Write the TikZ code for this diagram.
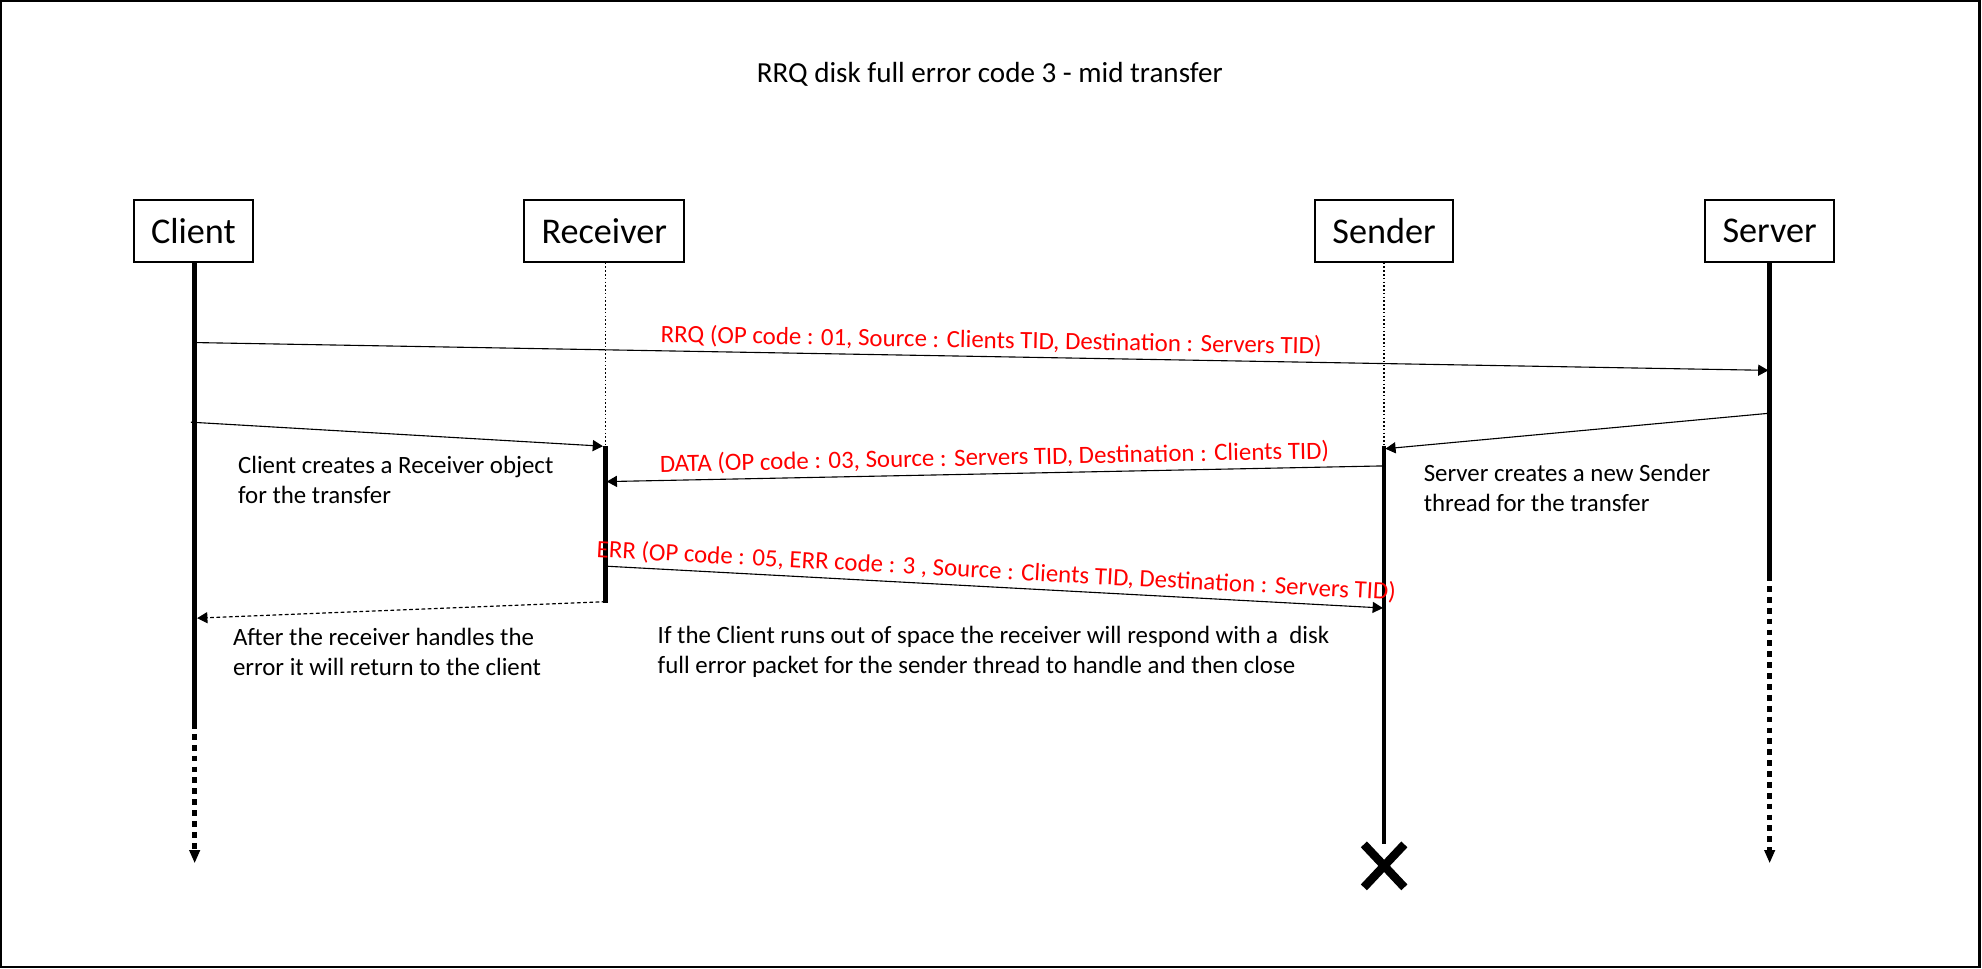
\documentclass[tikz,border=0pt]{standalone}
\usepackage{fontspec}
\setmainfont{Carlito}
\usetikzlibrary{arrows.meta}

\begin{document}
\begin{tikzpicture}[x=0.2mm, y=-0.2mm]

      \tikzset{object/.style={draw, line width=0.9pt, minimum height=27.9pt, inner xsep=7.7pt, font=\fontsize{16.3}{19}\selectfont},
               life/.style={line width=2pt},
               lifeend/.style={line width=2pt, dash pattern=on 2.6pt off 2.3pt, -{Triangle[length=6pt, width=4.6pt]}},
               idle/.style={line width=0.7pt, densely dotted},
               msg/.style={line width=0.5pt, -{Triangle[length=4.6pt, width=5pt]}},
               msglabel/.style={text=red, sloped, above, inner sep=2pt, font=\fontsize{11.2}{13.6}\selectfont},
               note/.style={align=left, anchor=west, inner sep=0pt, font=\fontsize{11.2}{13.6}\selectfont}}
      \useasboundingbox (0,0) rectangle (1568,766);
      \draw[line width=1pt] (1,1) rectangle (1566,765);
      \node[anchor=base, font=\fontsize{13.1}{16}\selectfont] (title) at (783,65) {RRQ disk full error code 3 - mid transfer};
%% Objects
      	\node[object] (client) at (153,182.5) {Client};
      	\node[object] (receiver) at (478,182.5) {Receiver};
      	\node[object] (sender) at (1095,182.5) {Sender};
      	\node[object] (server) at (1400,182.5) {Server};
%Lifelines
		\coordinate (c1) at (154,572);   \coordinate (c2) at (154,683);
		\coordinate (r1) at (479,353);   \coordinate (r2) at (479,477);
		\coordinate (s1) at (1095,353);  \coordinate (s2) at (1095,668);
		\coordinate (v1) at (1400,455);  \coordinate (v2) at (1400,683);
		\draw[life] (client.south -| c1) -- (c1);
		\draw[lifeend] (c1) -- (c2);
		\draw[idle] (receiver.south -| r1) -- (r1);
		\draw[life] (r1) -- (r2);
		\draw[idle] (sender.south -| s1) -- (s1);
		\draw[life] (s1) -- (s2);
		\draw[life] (server.south -| v1) -- (v1);
		\draw[lifeend] (v1) -- (v2);
		\coordinate (stop) at (1095,685);
		\draw[line width=3.8pt] (stop) +(-16,-17) -- +(16,17) (stop) +(16,-17) -- +(-16,17);
%Messages
		\coordinate (m1a) at (154,271);  \coordinate (m1b) at (1399,293);
		\coordinate (m2a) at (151,334);  \coordinate (m2b) at (477,353);
		\coordinate (m3a) at (1399,327); \coordinate (m3b) at (1096,355);
		\coordinate (m4a) at (1094,368.6); \coordinate (m4b) at (480,381);
		\coordinate (m5a) at (481,448);  \coordinate (m5b) at (1094,481);
		\coordinate (m6a) at (479,476);  \coordinate (m6b) at (156,489);
		\path[msg] (m1a) edge node[msglabel, pos=0.506] {RRQ (OP code : 01, Source : Clients TID, Destination : Servers TID)} (m1b);
		\path[msg] (m2a) edge (m2b);
		\path[msg] (m3a) edge (m3b);
		\path[msg] (m4a) edge node[msglabel, pos=0.5] {DATA (OP code : 03, Source : Servers TID, Destination : Clients TID)} (m4b);
		\path[msg] (m5a) edge node[msglabel, pos=0.5] {ERR (OP code : 05, ERR code : 3 , Source : Clients TID, Destination : Servers TID)} (m5b);
		\path[msg, dash pattern=on 1.7pt off 1.1pt] (m6a) edge (m6b);
%Notes
		\node[note] (n1) at (188,380) {Client creates a Receiver object\\for the transfer};
		\node[note] (n2) at (1126,386) {Server creates a new Sender\\thread for the transfer};
		\node[note] (n3) at (184,516) {After the receiver handles the\\error it will return to the client};
		\node[note] (n4) at (520,516) {If the Client runs out of space the receiver will respond with a\ \ disk\\full error packet for the sender thread to handle and then close};

	\end{tikzpicture}
\end{document}
